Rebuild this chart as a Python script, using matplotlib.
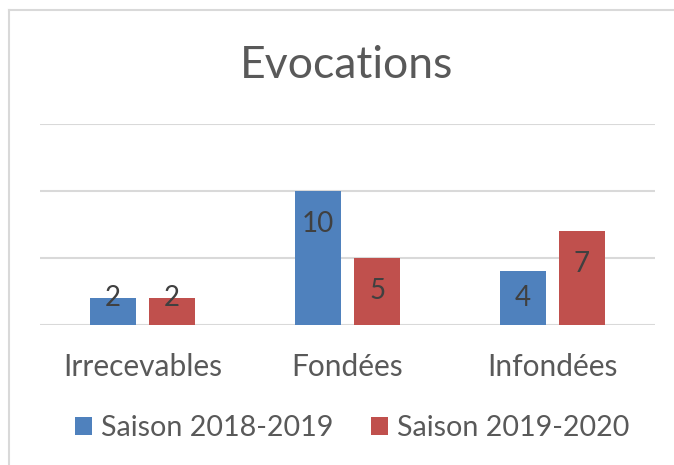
import matplotlib
matplotlib.use("Agg")
import matplotlib.pyplot as plt
from matplotlib.lines import Line2D
from matplotlib.patches import Patch
import numpy as np

# Data
categories = ["Irrecevables", "Fondées", "Infondées"]
series_names = ["Saison 2018-2019", "Saison 2019-2020"]
saison_2018 = [2, 10, 4]
saison_2019 = [2, 5, 7]
title = "Evocations"

BLUE = "#4F81BD"
RED = "#C0504D"
GRID = "#D9D9D9"
TEXT = "#595959"
LABEL = "#404040"

plt.rcParams['font.family'] = ['Lato', 'DejaVu Sans']

W, H = 674, 465
fig = plt.figure(figsize=(W / 100, H / 100), dpi=100)

# plot area in pixels: x 40..655, y 124..325
ax = fig.add_axes([40 / W, 1 - 325 / H, 615 / W, 201 / H])
ax.set_xlim(-0.5, 2.5)
ax.set_ylim(0, 15)

x = np.arange(len(categories))
width = 0.224
offset = 0.144
bars1 = ax.bar(x - offset, saison_2018, width, color=BLUE, zorder=3)
bars2 = ax.bar(x + offset, saison_2019, width, color=RED, zorder=3)

# gridlines
ax.set_yticks([0, 5, 10, 15])
ax.yaxis.grid(True, color=GRID, linewidth=1.5, zorder=0)
ax.tick_params(axis='y', left=False, labelleft=False)
for s in ax.spines.values():
    s.set_visible(False)

ax.set_xticks(x)
ax.set_xticklabels(categories, fontsize=21.5, color=TEXT)
ax.tick_params(axis='x', bottom=False, pad=17)

# data labels, just inside bar tops
px_per_unit = 201 / 15
for bars in (bars1, bars2):
    for b in bars:
        v = b.get_height()
        yc = max(v - 33 / px_per_unit, 27 / px_per_unit)
        ax.text(b.get_x() + b.get_width() / 2, yc, f"{v:g}", ha='center', va='center',
                fontsize=20, color=LABEL, zorder=4)

fig.text(347 / W, 1 - 78 / H, title, ha='center', va='baseline', fontsize=32, color=TEXT)

handles = [Patch(facecolor=BLUE), Patch(facecolor=RED)]
fig.legend(handles, series_names, loc='center', bbox_to_anchor=(352 / W, 1 - 428 / H),
           ncol=2, frameon=False, fontsize=20.6, handlelength=0.62, handleheight=0.62,
           handletextpad=0.3, columnspacing=1.3, labelcolor=TEXT, borderpad=0)

# chart frame (left and top edges visible)
fig.add_artist(Line2D([9 / W, 9 / W], [0, 1 - 10 / H], color=GRID, linewidth=1.5))
fig.add_artist(Line2D([9 / W, 1], [1 - 10 / H, 1 - 10 / H], color=GRID, linewidth=1.5))

fig.savefig("out.png", dpi=100)
